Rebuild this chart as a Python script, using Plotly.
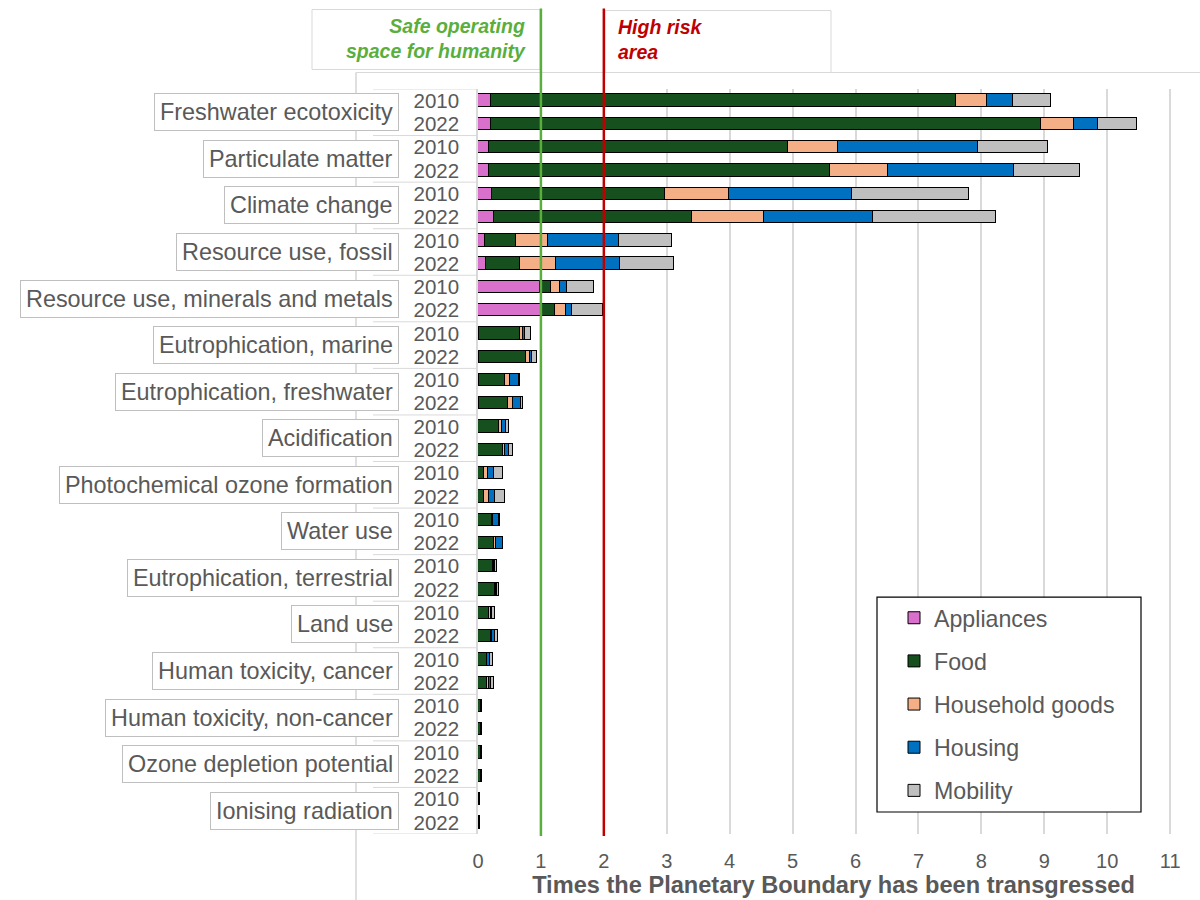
import plotly.graph_objects as go

categories = ["Freshwater ecotoxicity", "Particulate matter", "Climate change",
              "Resource use, fossil", "Resource use, minerals and metals",
              "Eutrophication, marine", "Eutrophication, freshwater", "Acidification",
              "Photochemical ozone formation", "Water use", "Eutrophication, terrestrial",
              "Land use", "Human toxicity, cancer", "Human toxicity, non-cancer",
              "Ozone depletion potential", "Ionising radiation"]
years = ["2010", "2022"]
sectors = ["Appliances", "Food", "Household goods", "Housing", "Mobility"]

appliances_2010 = [0.20, 0.17, 0.22, 0.11, 0.99, 0.01, 0.02, 0.005, 0.005, 0.003, 0.003, 0.003, 0.003, 0.005, 0.003, 0.002]
appliances_2022 = [0.21, 0.18, 0.25, 0.12, 1.02, 0.01, 0.02, 0.005, 0.005, 0.003, 0.003, 0.003, 0.003, 0.005, 0.003, 0.002]
food_2010 = [7.40, 4.75, 2.75, 0.49, 0.17, 0.66, 0.41, 0.335, 0.095, 0.227, 0.237, 0.177, 0.137, 0.04, 0.045, 0.01]
food_2022 = [8.73, 5.42, 3.15, 0.55, 0.20, 0.75, 0.46, 0.395, 0.095, 0.257, 0.267, 0.207, 0.137, 0.04, 0.045, 0.01]
household_2010 = [0.49, 0.80, 1.02, 0.51, 0.15, 0.05, 0.08, 0.04, 0.06, 0.01, 0.01, 0.02, 0.01, 0.005, 0.004, 0.005]
household_2022 = [0.54, 0.92, 1.14, 0.57, 0.18, 0.07, 0.08, 0.03, 0.08, 0.03, 0.01, 0.02, 0.03, 0.005, 0.004, 0.005]
housing_2010 = [0.41, 2.22, 1.95, 1.13, 0.10, 0.03, 0.14, 0.06, 0.10, 0.10, 0.02, 0.03, 0.04, 0.005, 0.004, 0.008]
housing_2022 = [0.37, 2.00, 1.74, 1.01, 0.09, 0.03, 0.13, 0.06, 0.09, 0.10, 0.02, 0.04, 0.04, 0.005, 0.004, 0.008]
mobility_2010 = [0.60, 1.12, 1.86, 0.84, 0.44, 0.10, 0.01, 0.06, 0.14, 0.01, 0.03, 0.04, 0.05, 0.005, 0.004, 0.005]
mobility_2022 = [0.63, 1.04, 1.95, 0.87, 0.49, 0.08, 0.02, 0.06, 0.16, 0.01, 0.03, 0.05, 0.04, 0.005, 0.004, 0.005]

x_ticks = list(range(0, 12))
safe_boundary = 1
high_risk = 2

colors = ["#D870CC", "#16501F", "#F4AF86", "#0070C0", "#BFBFBF"]
series = [(appliances_2010, appliances_2022), (food_2010, food_2022),
          (household_2010, household_2022), (housing_2010, housing_2022),
          (mobility_2010, mobility_2022)]

FONT = "Liberation Sans, Arial, sans-serif"
GREY_TXT = "#595959"

# geometry (pixels)
W, H = 1200, 900
L, R, T, B = 478, 11, 88.5, 66
PW, PH = W - L - R, H - T - B


def px(xp):
    return (xp - L) / PW


def py(yp):
    return (H - B - yp) / PH


n = len(categories)
positions = [2 * i + j for i in range(n) for j in range(len(years))]

fig = go.Figure()
for name, col, (v10, v22) in zip(sectors, colors, series):
    vals = []
    for i in range(n):
        vals += [v10[i], v22[i]]
    fig.add_trace(go.Bar(
        x=vals, y=positions, orientation="h", name=name, width=0.53,
        marker=dict(color=col, line=dict(color="#000000", width=1)),
        legendgroup=name,
    ))

shapes = []
# frame lines
shapes.append(dict(type="line", xref="paper", yref="paper", x0=px(356), x1=px(356), y0=py(72), y1=py(905),
                   line=dict(color="#BFBFBF", width=1)))
shapes.append(dict(type="line", xref="paper", yref="paper", x0=px(356), x1=px(1205), y0=py(72), y1=py(72),
                   line=dict(color="#D9D9D9", width=1)))
# year group dividers
for i in range(n + 1):
    shapes.append(dict(type="line", xref="paper", yref="y", x0=px(373), x1=0, y0=2 * i - 0.5, y1=2 * i - 0.5,
                       line=dict(color="#D9D9D9", width=1)))
# top label boxes
shapes.append(dict(type="rect", xref="paper", yref="paper", x0=px(312), x1=px(540), y0=py(69), y1=py(9),
                   line=dict(color="#D9D9D9", width=1), fillcolor="white"))
shapes.append(dict(type="rect", xref="paper", yref="paper", x0=px(605), x1=px(831), y0=py(72), y1=py(10),
                   line=dict(color="#D9D9D9", width=1), fillcolor="white"))
# boundary lines
shapes.append(dict(type="line", xref="x", yref="paper", x0=safe_boundary, x1=safe_boundary, y0=py(836), y1=py(8),
                   line=dict(color="#5AAF3C", width=2.5), layer="above"))
shapes.append(dict(type="line", xref="x", yref="paper", x0=high_risk, x1=high_risk, y0=py(836), y1=py(8),
                   line=dict(color="#C00000", width=2.5), layer="above"))
# legend box
shapes.append(dict(type="rect", xref="paper", yref="paper", x0=px(877), x1=px(1141), y0=py(812), y1=py(597),
                   line=dict(color="#000000", width=1.2), fillcolor="white", layer="above"))

annotations = []
for i, cat in enumerate(categories):
    annotations.append(dict(
        text=cat, xref="paper", yref="y", x=px(399), y=2 * i + 0.5, xanchor="right", yanchor="middle",
        showarrow=False, font=dict(family=FONT, size=23.4, color=GREY_TXT),
        bordercolor="#BFBFBF", borderwidth=1, borderpad=5, bgcolor="white"))
annotations.append(dict(
    text="<b><i>Safe operating<br>space for humanity</i></b>", xref="paper", yref="paper",
    x=px(528), y=py(38), xanchor="right", yanchor="middle", align="right", showarrow=False,
    font=dict(family=FONT, size=19.5, color="#5AAF3C")))
annotations.append(dict(
    text="<b><i>High risk<br>area</i></b>", xref="paper", yref="paper",
    x=px(616), y=py(39), xanchor="left", yanchor="middle", align="left", showarrow=False,
    font=dict(family=FONT, size=19.5, color="#C00000")))

fig.update_layout(
    width=W, height=H, margin=dict(l=L, r=R, t=T, b=B, autoexpand=False),
    barmode="stack", plot_bgcolor="white", paper_bgcolor="white",
    font=dict(family=FONT, color=GREY_TXT),
    shapes=shapes, annotations=annotations, bargap=0,
    legend=dict(x=px(894), y=py(596), xanchor="left", yanchor="top", traceorder="grouped",
                tracegroupgap=10, font=dict(family=FONT, size=23.2, color=GREY_TXT),
                bgcolor="rgba(0,0,0,0)", borderwidth=0),
    xaxis=dict(range=[0, 11.3], tickvals=x_ticks, showgrid=True, gridcolor="#D9D9D9", gridwidth=1.5,
               zeroline=False, showline=False, ticks="outside", ticklen=9, tickcolor="rgba(0,0,0,0)",
               tickfont=dict(family=FONT, size=20, color=GREY_TXT),
               title=dict(text="<b>Times the Planetary Boundary has been transgressed</b>",
                          font=dict(family=FONT, size=23.6, color=GREY_TXT), standoff=2)),
    yaxis=dict(range=[2 * n - 0.5, -0.5], tickvals=positions, ticktext=years * n, showgrid=False,
               zeroline=False, showline=True, linecolor="#D9D9D9", linewidth=1.5,
               ticks="outside", ticklen=13, tickcolor="rgba(0,0,0,0)",
               tickfont=dict(family=FONT, size=20.5, color=GREY_TXT)),
)

fig.write_html("out.html", config={"displayModeBar": False},
               post_script="document.body.style.margin='0';document.body.style.padding='0';")
